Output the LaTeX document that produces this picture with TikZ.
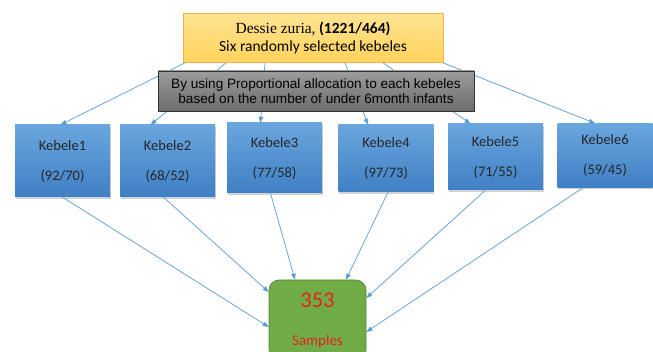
\documentclass[tikz,border=0pt]{standalone}
\usepackage{fontspec}
\setmainfont{Carlito}
\newfontfamily\timesfont{Liberation Serif}
\newfontfamily\arialfont{Liberation Sans}
\usetikzlibrary{arrows.meta,shadows}
\definecolor{zonetop}{HTML}{FFE391}
\definecolor{zonebot}{HTML}{FFD35C}
\definecolor{zoneline}{HTML}{F2B34A}
\definecolor{notetop}{HTML}{9C9C9C}
\definecolor{notebot}{HTML}{6C6C6C}
\definecolor{kebtop}{HTML}{6AA6DE}
\definecolor{kebbot}{HTML}{3F7FC4}
\definecolor{linkblue}{HTML}{5B9BD5}
\definecolor{samplegreen}{HTML}{6FAC46}
\definecolor{sampleline}{HTML}{548235}
\definecolor{samplered}{HTML}{E3241B}

\begin{document}
\begin{tikzpicture}[x=1pt,y=-1pt,
  zonebox/.style={minimum width=260pt,minimum height=49pt,inner sep=0pt,
    top color=zonetop,bottom color=zonebot,draw=zoneline,line width=.6pt,
    align=center,font=\fontsize{15.5}{18}\selectfont},
  notebox/.style={minimum width=316pt,minimum height=40pt,inner sep=0pt,
    top color=notetop,bottom color=notebot,draw=black!80,line width=.6pt,
    align=center,font=\arialfont\fontsize{13.6}{14.5}\selectfont},
  kebele/.style={minimum width=95pt,inner sep=0pt,
    top color=kebtop,bottom color=kebbot,
    drop shadow={shadow xshift=.8pt,shadow yshift=-1.8pt,opacity=.35},
    align=center,text=black!85,font=\fontsize{14.5}{17}\selectfont},
  samplebox/.style={minimum width=97pt,minimum height=80pt,inner sep=0pt,
    fill=samplegreen,draw=sampleline,line width=.6pt,rounded corners=10pt,
    align=center,text=samplered,font=\fontsize{15}{18}\selectfont},
  link/.style={draw=linkblue,line width=.7pt,-{Triangle[length=6pt,width=4.5pt]}}]
 \useasboundingbox (0,0) rectangle (653,352);
 \fill[white] (0,0) rectangle (653,352);

 % zone and the six kebeles
 \node[zonebox] (zone) at (313,38)
   {{\timesfont Dessie zuria,} \textbf{(1221/464)}\\Six randomly selected kebeles};
 \node[kebele,minimum height=72pt] (k1) at (62.5,161) {Kebele1\\[13pt](92/70)};
 \node[kebele,minimum height=72pt] (k2) at (167.5,161) {Kebele2\\[13pt](68/52)};
 \node[kebele,minimum height=70pt] (k3) at (274.5,158) {Kebele3\\[13pt](77/58)};
 \node[kebele,minimum height=67pt] (k4) at (386,158.5) {Kebele4\\[13pt](97/73)};
 \node[kebele,minimum height=66pt] (k5) at (495.5,157) {Kebele5\\[13pt](71/55)};
 \node[kebele,minimum height=64pt] (k6) at (605,155.5) {Kebele6\\[13pt](59/45)};
 \node[samplebox] (samples) at (317.5,320)
   {{\fontsize{22.5}{24}\selectfont 353}\\[20pt]Samples};

 % zone -> kebeles
 \draw[link] ([xshift=-128pt]zone.south) -- ([xshift=-2pt]k1.north);
 \draw[link] ([xshift=-87pt]zone.south) -- ([xshift=-17pt]k2.north);
 \draw[link] ([xshift=-48pt]zone.south) -- ([xshift=-14pt]k3.north);
 \draw[link] ([xshift=32pt]zone.south) -- ([xshift=-18pt]k4.north);
 \draw[link] ([xshift=70pt]zone.south) -- ([xshift=-25pt]k5.north);
 \draw[link] ([xshift=130pt]zone.south) -- ([xshift=-10pt]k6.north);

 % kebeles -> samples
 \draw[link] (k1.south) -- ([yshift=-7pt]samples.west);
 \draw[link] ([xshift=-4pt]k2.south) -- ([yshift=28pt]samples.west);
 \draw[link] ([xshift=-4pt]k3.south) -- ([xshift=-22.5pt]samples.north);
 \draw[link] ([xshift=2pt]k4.south) -- ([xshift=28.5pt]samples.north);
 \draw[link] ([xshift=-10pt]k5.south) -- ([yshift=22pt]samples.east);
 \draw[link] ([xshift=-22pt]k6.south) -- ([yshift=-12pt]samples.east);

 % allocation note over the links
 \node[notebox] (note) at (316,91)
   {By using Proportional allocation to each kebeles\\based on the number of under 6month infants};
\end{tikzpicture}
\end{document}
